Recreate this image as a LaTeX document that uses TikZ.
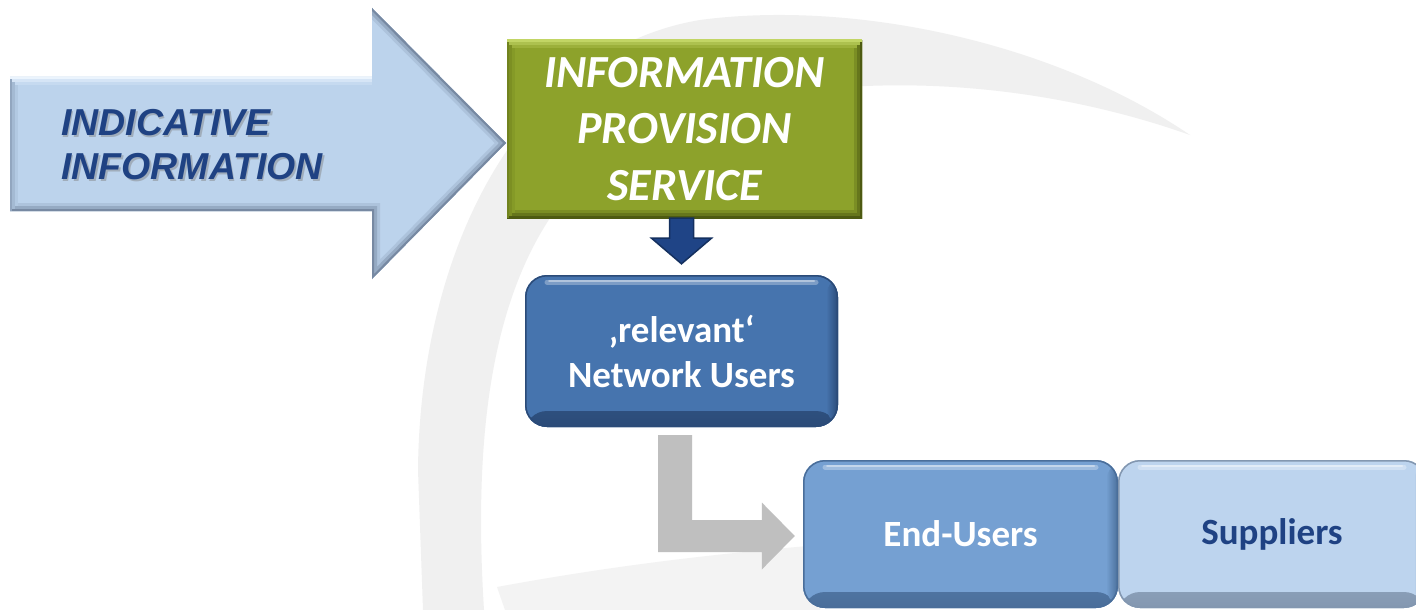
\documentclass[tikz,border=0pt]{standalone}
\usepackage{fontspec}
\setmainfont{Carlito}
\newfontfamily\arialf{Liberation Sans}
\usetikzlibrary{calc}
\definecolor{bgarc}{HTML}{F0F0F0}
\definecolor{bgarcb}{HTML}{F3F3F3}
\definecolor{ltblue}{HTML}{BCD3EC}
\definecolor{ltblueD}{HTML}{6F819A}
\definecolor{ltblueL}{HTML}{F0F7FF}
\definecolor{ltblueM}{HTML}{8DA1BA}
\definecolor{txtblue}{HTML}{1F4283}
\definecolor{grn}{HTML}{8DA22B}
\definecolor{grnL}{HTML}{C8DB6C}
\definecolor{grnD}{HTML}{46520F}
\definecolor{grnM}{HTML}{6E801C}
\definecolor{dkarrow}{HTML}{1F4486}
\definecolor{dkarrowD}{HTML}{14305F}
\definecolor{nublue}{HTML}{4674AE}
\definecolor{nublueD}{HTML}{2B4B78}
\definecolor{eublue}{HTML}{75A0D2}
\definecolor{eublueD}{HTML}{4A6E9A}
\definecolor{supblue}{HTML}{BDD4EE}
\definecolor{supblueD}{HTML}{8397B0}
\definecolor{greyarr}{HTML}{BFBFBF}
\tikzset{
  rbox/.style n args={2}{rounded corners=22pt, fill=#1, inner sep=0pt,
    path picture={
      \shade[top color=#1, bottom color=#2]
        ([yshift=16pt]path picture bounding box.south west) rectangle (path picture bounding box.south east);
      \shade[left color=#1, right color=#2]
        ([xshift=-12pt]path picture bounding box.north east) rectangle (path picture bounding box.south east);
      \draw[#2, line width=3pt, rounded corners=22pt]
        (path picture bounding box.north west) rectangle (path picture bounding box.south east);
      \draw[white, opacity=.3, line width=5pt, line cap=round]
        ([xshift=22pt,yshift=-7pt]path picture bounding box.north west) -- ([xshift=-22pt,yshift=-7pt]path picture bounding box.north east);
      \draw[white, opacity=.4, line width=2pt, line cap=round]
        ([xshift=24pt,yshift=-6pt]path picture bounding box.north west) -- ([xshift=-24pt,yshift=-6pt]path picture bounding box.north east);
    }},
  gbox/.style={fill=grn, inner sep=0pt,
    path picture={
      \foreach \w/\m in {16/25,10/55,4/90}{
        \draw[grnD!\m!grn, line width=\w pt]
          (path picture bounding box.north east) -- (path picture bounding box.south east) -- (path picture bounding box.south west);
        \draw[grnM!\m!grn, line width=\w pt]
          (path picture bounding box.south west) -- (path picture bounding box.north west);
        \draw[grnL!\m!grn, line width=\w pt]
          (path picture bounding box.north west) -- (path picture bounding box.north east);
      }
    }},
  boxtext/.style={font=\bfseries\fontsize{37}{45}\selectfont, align=center}
}
\begin{document}
\begin{tikzpicture}[x=1pt,y=-1pt]
\useasboundingbox (0,0) rectangle (1416,610);
\fill[white] (0,0) rectangle (1416,610);

% background crescent
\fill[bgarc] (1190,135) .. controls (1050,40) and (850,0) .. (700,20)
  .. controls (520,50) and (420,250) .. (418,470) -- (423,610) -- (484,610)
  .. controls (472,420) and (495,270) .. (580,180)
  .. controls (680,80) and (950,50) .. (1190,135) -- cycle;
\fill[bgarcb] (497,587) .. controls (600,568) and (700,555) .. (820,545) -- (820,610) -- (505,610) -- cycle;

% big left arrow
\begin{scope}
  \clip (10,77) -- (372,77) -- (372,8) -- (506,143) -- (372,279) -- (372,211) -- (10,211) -- cycle;
  \fill[ltblue] (10,77) -- (372,77) -- (372,8) -- (506,143) -- (372,279) -- (372,211) -- (10,211) -- cycle;
  \foreach \w/\m in {16/20,10/50,4/90}{
    \draw[ltblueD!\m!ltblue, line width=\w pt, line join=miter] (10,211) -- (372,211) -- (372,279) -- (506,143) -- (372,8);
    \draw[ltblueM!\m!ltblue, line width=\w pt] (10,211) -- (10,77);
    \draw[ltblueL!\m!ltblue, line width=\w pt] (10,77) -- (372,77);
  }
\end{scope}
\node[font=\arialf\bfseries\itshape\fontsize{37.5}{44}\selectfont, text=gray, opacity=.45, align=left, anchor=west, inner sep=0pt] (indshadow) at (62.5,146.5) {INDICATIVE\\INFORMATION};
\node[font=\arialf\bfseries\itshape\fontsize{37.5}{44}\selectfont, text=txtblue, align=left, anchor=west, inner sep=0pt] (ind) at (61,145) {INDICATIVE\\INFORMATION};

% green box
\node[gbox, minimum width=355pt, minimum height=178pt, text=white,
      font=\bfseries\itshape\fontsize{46}{56.5}\selectfont, align=center] (ips) at (684.5,129) {INFORMATION\\PROVISION\\SERVICE};

% rounded boxes
\node[rbox={nublue}{nublueD}, minimum width=313pt, minimum height=152pt, text=white, boxtext] (nu) at (681.5,351) {‚relevant‘\\Network Users};
\node[rbox={eublue}{eublueD}, minimum width=315pt, minimum height=148pt, text=white, boxtext] (eu) at (960.5,534) {End-Users};
\node[rbox={supblue}{supblueD}, minimum width=308pt, minimum height=148pt, text=txtblue, boxtext] (sup) at (1272,534) {Suppliers};

% dark blue down arrow
\coordinate (a1) at (nu.north |- ips.south);
\coordinate (a2) at ($(nu.north)+(0,-11)$);
\filldraw[fill=dkarrow, draw=dkarrowD, line width=1.5pt, line join=miter]
  ($(a1)+(-12,0)$) -- ($(a1)+(12,0)$) -- ($(a1)+(12,20)$) -- ($(a1)+(30,20)$) -- (a2)
  -- ($(a1)+(-30,20)$) -- ($(a1)+(-12,20)$) -- cycle;

% grey L arrow
\coordinate (gs) at ($(nu.south)+(-6.5,8)$);
\coordinate (ge) at ($(eu.west)+(-8,2)$);
\fill[greyarr] ($(gs)+(-17,0)$) -- ($(gs)+(17,0)$) -- ($(gs |- ge)+(17,-16)$) -- ($(ge)+(-33,-16)$)
  -- ($(ge)+(-33,-33.5)$) -- (ge) -- ($(ge)+(-33,33.5)$) -- ($(ge)+(-33,16)$)
  -- ($(gs |- ge)+(-17,16)$) -- cycle;
\end{tikzpicture}
\end{document}
